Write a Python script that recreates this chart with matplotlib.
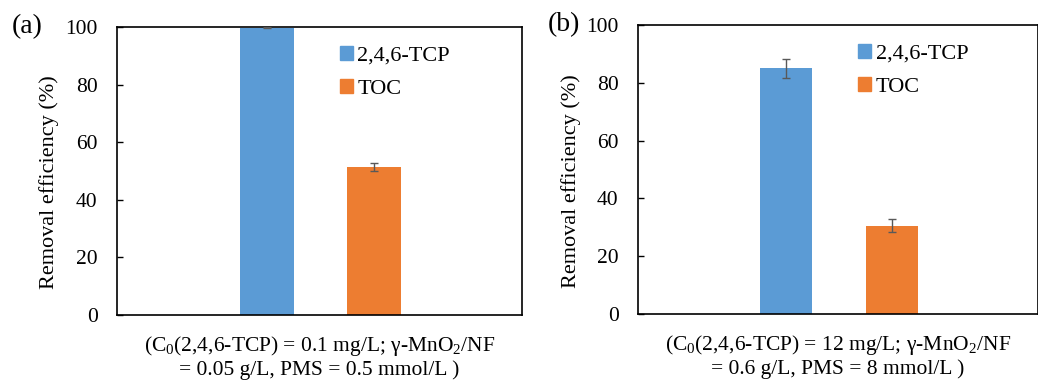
import matplotlib.pyplot as plt
from matplotlib.patches import Patch

plt.rcParams['font.family'] = ['Liberation Serif', 'DejaVu Serif']
plt.rcParams['mathtext.fontset'] = 'custom'
plt.rcParams['mathtext.rm'] = 'Liberation Serif'
plt.rcParams['mathtext.it'] = 'Liberation Serif:italic'

# data
series = ['2,4,6-TCP', 'TOC']
colors = ['#5b9bd5', '#ed7d31']
vals_a = [99.8, 51.3]
err_a = [0.3, 1.4]
vals_b = [85.0, 30.6]
err_b = [3.4, 2.3]
xlabel_a = '(C$_0$(2,4,6-TCP) = 0.1 mg/L; γ-MnO$_2$/NF\n= 0.05 g/L, PMS = 0.5 mmol/L )'
xlabel_b = '(C$_0$(2,4,6-TCP) = 12 mg/L; γ-MnO$_2$/NF\n= 0.6 g/L, PMS = 8 mmol/L )'
yticks = [0, 20, 40, 60, 80, 100]

offsets = [-0.13, 0.135]
width = 0.132

fig = plt.figure(figsize=(10.38, 3.81), dpi=100)
W, H = 1038, 381
ax_a = fig.add_axes([117 / W, 1 - 315 / H, 405 / W, 288 / H])
ax_b = fig.add_axes([638 / W, 1 - 314 / H, 400 / W, 289 / H])


def draw(ax, vals, errs, xlabel, tag, tagx, labx):
    for off, v, e, c in zip(offsets, vals, errs, colors):
        ax.bar(off, v, width=width, color=c, zorder=2)
        ax.errorbar(off, v, yerr=e, color='#595959', capsize=3,
                    elinewidth=1, capthick=1, zorder=3)
    ax.set_xlim(-0.5, 0.5)
    ax.set_ylim(0, 100)
    ax.set_yticks(yticks)
    ax.set_xticks([])
    ax.tick_params(axis='y', labelsize=15.5, length=4, width=1,
                   direction='in', pad=14)
    for s in ax.spines.values():
        s.set_linewidth(1.2)
    ax.set_ylabel('Removal efficiency (%)', fontsize=16)
    ax.yaxis.set_label_coords(labx, 0.46)
    ax.set_xlabel(xlabel, fontsize=15.5, labelpad=14, linespacing=1.1)
    handles = [Patch(color=c, label=l) for c, l in zip(colors, series)]
    ax.legend(handles=handles, loc='upper left', bbox_to_anchor=(0.5, 1.005),
              frameon=False, fontsize=16, handlelength=0.6, handleheight=0.6,
              handletextpad=0.2, labelspacing=0.6)
    ax.text(tagx, 1.0, tag, transform=ax.transAxes, fontsize=20,
            ha='left', va='center')


draw(ax_a, vals_a, err_a, xlabel_a, '(a)', -0.26, -0.143)
draw(ax_b, vals_b, err_b, xlabel_b, '(b)', -0.225, -0.1425)

fig.savefig('out.png', dpi=100)
